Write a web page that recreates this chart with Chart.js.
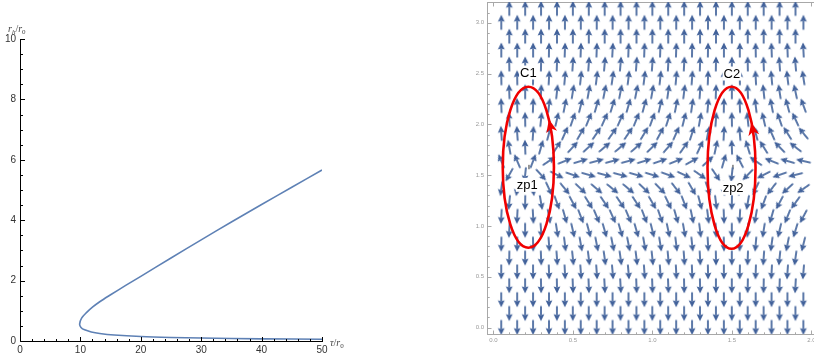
<!DOCTYPE html>
<html>
<head>
<meta charset="utf-8">
<script src="https://cdn.jsdelivr.net/npm/chart.js@4.4.1/dist/chart.umd.min.js"></script>
<style>
html, body { margin: 0; padding: 0; background: #fff; overflow: hidden; width: 814px; height: 356px; }
#leftBox { position: absolute; left: 0; top: 0; width: 345px; height: 356px; }
#rightBox { position: absolute; left: 460px; top: 0; width: 364px; height: 356px; }
canvas { display: block; }
</style>
</head>
<body>
<div id="leftBox"><canvas id="curveChart" width="345" height="356"></canvas></div>
<div id="rightBox"><canvas id="fieldChart" width="364" height="356"></canvas></div>
<script>
// ---- Left panel: horizon radius r_h/r_0 against tau/r_0 (upper branch, then lower branch) ----
const tauPoints = [50, 45, 40, 35, 30, 25, 20, 17.5, 15, 13.2, 12, 11, 10.2, 9.87,
                   10.1, 10.7, 11.8, 13.2, 15.6, 20, 25, 30, 40, 50];
const rhPoints  = [5.66, 5.09, 4.52, 3.94, 3.35, 2.75, 2.14, 1.84, 1.53, 1.3, 1.12, 0.94, 0.76, 0.56,
                   0.45, 0.37, 0.3, 0.25, 0.2, 0.15, 0.118, 0.097, 0.072, 0.058];
const curveXTicks = [0, 10, 20, 30, 40, 50];
const curveYTicks = [0, 2, 4, 6, 8, 10];

// ---- Right panel: normalised vector field over (r_h/r_0, theta) ----
const fieldRowsTheta = [0, 0.137, 0.273, 0.410, 0.546, 0.683, 0.820, 0.956, 1.093, 1.229, 1.366, 1.503,
                        1.639, 1.776, 1.912, 2.049, 2.186, 2.322, 2.459, 2.595, 2.732, 2.869, 3.005, 3.142];
const fieldColsEven = [0.05, 0.15, 0.25, 0.35, 0.45, 0.55, 0.65, 0.75, 0.85, 0.95, 1.05, 1.15, 1.25, 1.35, 1.45, 1.55, 1.65, 1.75, 1.85, 1.95];
const fieldColsOdd  = [0.1, 0.2, 0.3, 0.4, 0.5, 0.6, 0.7, 0.8, 0.9, 1.0, 1.1, 1.2, 1.3, 1.4, 1.5, 1.6, 1.7, 1.8, 1.9];

// arrow directions in degrees (0 = right, 90 = up), one list per row, bottom row first
const row00 = [-90,-90,-90,-90,-90,-90,-90,-90,-90,-90,-90,-90,-90,-90,-90,-90,-90,-90,-90,-90];
const row01 = [-90,-90,-90,-90,-90,-90,-90,-90,-90,-90,-90,-90,-90,-90,-90,-90,-90,-90,-90];
const row02 = [-90,-90,-90,-90,-90,-90,-90,-90,-90,-90,-90,-90,-90,-90,-90,-90,-90,-90,-90,-90];
const row03 = [-90,-90,-89,-89,-88,-88,-87,-87,-88,-88,-88,-89,-89,-90,-90,-91,-91,-92,-93];
const row04 = [-90,-90,-90,-88,-87,-86,-86,-85,-85,-86,-86,-87,-88,-89,-90,-91,-92,-93,-94,-95];
const row05 = [-91,-90,-88,-86,-84,-83,-82,-82,-83,-84,-85,-86,-87,-89,-90,-92,-94,-96,-98];
const row06 = [-91,-91,-89,-86,-83,-80,-79,-79,-79,-80,-81,-83,-84,-87,-89,-92,-95,-98,-101,-104];
const row07 = [-93,-90,-86,-81,-77,-75,-74,-74,-74,-76,-78,-80,-83,-87,-90,-94,-99,-103,-107];
const row08 = [-93,-93,-87,-80,-74,-69,-67,-66,-67,-69,-71,-74,-78,-83,-88,-93,-100,-106,-112,-118];
const row09 = [-96,-91,-80,-70,-62,-58,-56,-56,-57,-60,-64,-69,-75,-83,-91,-100,-110,-118,-126];
const row10 = [-98,-98,-83,-65,-51,-44,-40,-39,-40,-43,-46,-52,-60,-71,-85,-99,-115,-128,-138,-145];
const row11 = [-119,-96,-48,-27,-19,-16,-15,-15,-16,-17,-20,-25,-35,-56,-96,-134,-153,-161,-166];
const row12 = [113,113,69,34,22,17,15,15,15,17,19,22,29,43,74,117,145,158,164,167];
const row13 = [100,92,74,57,47,42,40,40,41,44,49,55,65,78,92,107,122,134,142];
const row14 = [94,94,86,75,66,60,56,55,56,59,62,66,72,79,87,95,105,114,122,129];
const row15 = [94,91,84,77,71,68,66,66,68,70,72,76,80,86,91,96,103,109,115];
const row16 = [92,92,88,83,79,76,74,73,74,75,77,79,82,85,89,92,97,101,105,110];
const row17 = [92,90,87,84,81,80,79,79,79,80,82,83,86,88,90,93,96,99,102];
const row18 = [91,91,89,87,85,84,83,82,83,83,84,85,86,88,89,91,93,95,97,99];
const row19 = [91,90,89,88,86,86,85,85,86,86,87,87,88,89,90,91,92,94,95];
const row20 = [90,90,90,89,88,88,88,87,88,88,88,88,89,89,90,90,91,92,92,93];
const row21 = [90,90,90,90,90,90,90,90,90,90,90,90,90,90,90,90,90,90,90];
const row22 = [90,90,90,90,90,90,90,90,90,90,90,90,90,90,90,90,90,90,90,90];
const row23 = [90,90,90,90,90,90,90,90,90,90,90,90,90,90,90,90,90,90,90];
const fieldAngleRows = [row00,row01,row02,row03,row04,row05,row06,row07,row08,row09,row10,row11,
                        row12,row13,row14,row15,row16,row17,row18,row19,row20,row21,row22,row23];

// zero points and the closed contours around them
const zeroPointX = [0.224, 1.507];
const zeroPointY = [1.58, 1.58];
const zeroPointLabels = ['zp1', 'zp2'];
const zeroLabelX = [0.213, 1.508];
const zeroLabelY = [1.405, 1.375];
const contourLabels = ['C1', 'C2'];
const contourCenterX = [0.22, 1.498];
const contourCenterY = [1.578, 1.573];
const contourRadiusX = [0.161, 0.151];
const contourRadiusY = [0.792, 0.797];
const contourHeadY = [2.03, 2.0];
const contourLabelX = [0.22, 1.50];
const contourLabelY = [2.51, 2.50];
const fieldXTicks = [0, 0.5, 1.0, 1.5, 2.0];
const fieldYTicks = [0, 0.5, 1.0, 1.5, 2.0, 2.5, 3.0];

function noScalePadding(a) {
  a.paddingTop = 0; a.paddingBottom = 0; a.paddingLeft = 0; a.paddingRight = 0;
}

// ---------- left chart ----------
const curveAxes = {
  id: 'curveAxes',
  afterDraw(chart) {
    const { ctx, scales: { x, y } } = chart;
    const ax = Math.round(x.getPixelForValue(0)) + 0.5;
    const ay = Math.round(y.getPixelForValue(0)) + 0.5;
    ctx.save();
    ctx.strokeStyle = '#000';
    ctx.lineWidth = 1;
    ctx.beginPath();
    ctx.moveTo(ax, Math.round(y.getPixelForValue(10)));
    ctx.lineTo(ax, ay);
    ctx.lineTo(Math.round(x.getPixelForValue(50)) + 1, ay);
    for (let v = 0; v <= 10.0001; v += 0.5) {
      const p = Math.round(y.getPixelForValue(v)) + 0.5;
      const major = Math.abs(v / 2 - Math.round(v / 2)) < 1e-6;
      ctx.moveTo(ax, p); ctx.lineTo(ax + (major ? 4.5 : 2.5), p);
    }
    for (let v = 0; v <= 50.0001; v += 2) {
      const p = Math.round(x.getPixelForValue(v)) + 0.5;
      const major = Math.abs(v / 10 - Math.round(v / 10)) < 1e-6;
      ctx.moveTo(p, ay); ctx.lineTo(p, ay - (major ? 4.5 : 2.5));
    }
    ctx.stroke();
    // axis titles
    ctx.fillStyle = '#444';
    ctx.textBaseline = 'alphabetic';
    let cx = 8, by = 32;
    const part = (t, font, dy) => { ctx.font = font; ctx.fillText(t, cx, by + dy); cx += ctx.measureText(t).width; };
    part('r', 'italic 10px "Liberation Serif"', 0);
    part('h', 'italic 7px "Liberation Serif"', 2);
    part('/', '10px "Liberation Serif"', 0);
    part('r', 'italic 10px "Liberation Serif"', 0);
    part('0', '7px "Liberation Serif"', 2);
    cx = 330; by = 346;
    part('\u03c4', 'italic 10px "Liberation Serif"', 0);
    part('/', '10px "Liberation Serif"', 0);
    part('r', 'italic 10px "Liberation Serif"', 0);
    part('0', '7px "Liberation Serif"', 2);
    ctx.restore();
  }
};

new Chart(document.getElementById('curveChart'), {
  type: 'scatter',
  data: {
    datasets: [{
      data: tauPoints.map((t, i) => ({ x: t, y: rhPoints[i] })),
      showLine: true,
      borderColor: '#5e81b5',
      borderWidth: 1.6,
      pointRadius: 0,
      tension: 0.3,
      fill: false
    }]
  },
  options: {
    responsive: false,
    animation: false,
    events: [],
    layout: { autoPadding: false, padding: { left: 0, right: 23, top: 39, bottom: 0 } },
    plugins: { legend: { display: false }, tooltip: { enabled: false } },
    scales: {
      x: {
        type: 'linear', min: 0, max: 50,
        afterFit(a) { a.height = 15; noScalePadding(a); },
        afterBuildTicks(a) { a.ticks = curveXTicks.map(v => ({ value: v })); },
        grid: { display: false, drawTicks: false }, border: { display: false },
        ticks: { color: '#333', font: { size: 10, family: 'Liberation Sans' }, padding: 3, maxRotation: 0, autoSkip: false }
      },
      y: {
        type: 'linear', min: 0, max: 10,
        afterFit(a) { a.width = 20; noScalePadding(a); },
        afterBuildTicks(a) { a.ticks = curveYTicks.map(v => ({ value: v })); },
        grid: { display: false, drawTicks: false }, border: { display: false },
        ticks: { color: '#333', font: { size: 10, family: 'Liberation Sans' }, padding: 4, autoSkip: false }
      }
    }
  },
  plugins: [curveAxes]
});

// ---------- right chart ----------
function makeArrowGlyph() {
  const c = document.createElement('canvas');
  c.width = 20; c.height = 20;
  const g = c.getContext('2d');
  g.strokeStyle = '#5573a5';
  g.lineWidth = 1.9;
  g.beginPath(); g.moveTo(10, 17.4); g.lineTo(10, 8.5); g.stroke();
  g.fillStyle = '#41619a';
  g.beginPath(); g.moveTo(10, 2.6); g.lineTo(13.4, 9.6); g.lineTo(10, 8.6); g.lineTo(6.6, 9.6); g.closePath(); g.fill();
  return c;
}
const arrowGlyph = makeArrowGlyph();

const arrowPoints = [];
const arrowRotations = [];
fieldAngleRows.forEach((angles, k) => {
  const cols = (k % 2 === 0) ? fieldColsEven : fieldColsOdd;
  angles.forEach((a, i) => {
    arrowPoints.push({ x: cols[i], y: fieldRowsTheta[k] });
    arrowRotations.push(90 - a);
  });
});

const fieldDecor = {
  id: 'fieldDecor',
  beforeDatasetsDraw(chart) {
    const { ctx, chartArea: ca, scales: { x, y } } = chart;
    ctx.save();
    ctx.strokeStyle = '#a8a8a8';
    ctx.lineWidth = 1;
    const L = Math.round(ca.left) + 0.5, R = Math.round(ca.right) + 0.5;
    const T = Math.round(ca.top) + 0.5, B = Math.round(ca.bottom) + 0.5;
    ctx.strokeRect(L, T, R - L, B - T);
    ctx.beginPath();
    for (let i = 0; i <= 32; i++) {
      const p = Math.round(y.getPixelForValue(i / 10)) + 0.5;
      const len = (i % 5 === 0) ? 4 : 2.2;
      ctx.moveTo(L, p); ctx.lineTo(L + len, p);
      ctx.moveTo(R, p); ctx.lineTo(R - len, p);
    }
    for (let i = 0; i <= 20; i++) {
      const p = Math.round(x.getPixelForValue(i / 10)) + 0.5;
      const len = (i % 5 === 0) ? 4 : 2.2;
      ctx.moveTo(p, B); ctx.lineTo(p, B - len);
      ctx.moveTo(p, T); ctx.lineTo(p, T + len);
    }
    ctx.stroke();
    // axis titles
    ctx.fillStyle = '#999';
    ctx.font = 'italic 7px "Liberation Serif"';
    ctx.textAlign = 'center';
    ctx.fillText('\u03b8', 472, 171);
    let cx = 644, by = 352;
    ctx.textAlign = 'left';
    const part = (t, font, dy) => { ctx.font = font; ctx.fillText(t, cx, by + dy); cx += ctx.measureText(t).width; };
    part('r', 'italic 7px "Liberation Serif"', 0);
    part('h', 'italic 5px "Liberation Serif"', 1.5);
    part('/', '7px "Liberation Serif"', 0);
    part('r', 'italic 7px "Liberation Serif"', 0);
    part('0', '5px "Liberation Serif"', 1.5);
    ctx.restore();
  },
  afterDatasetsDraw(chart) {
    const { ctx, scales: { x, y } } = chart;
    ctx.save();
    ctx.strokeStyle = '#f00000';
    ctx.fillStyle = '#f00000';
    ctx.lineWidth = 2.6;
    contourCenterX.forEach((cxv, i) => {
      const px = x.getPixelForValue(cxv), py = y.getPixelForValue(contourCenterY[i]);
      const rx = Math.abs(x.getPixelForValue(cxv + contourRadiusX[i]) - px);
      const ry = Math.abs(y.getPixelForValue(contourCenterY[i] + contourRadiusY[i]) - py);
      ctx.beginPath(); ctx.ellipse(px, py, rx, ry, 0, 0, Math.PI * 2); ctx.stroke();
      // direction mark on the right-hand side, pointing anticlockwise
      const s = (contourHeadY[i] - contourCenterY[i]) / contourRadiusY[i];
      const t = Math.asin(s);
      const hx = px + rx * Math.cos(t), hy = py - ry * Math.sin(t);
      let dx = -rx * Math.sin(t), dy = -ry * Math.cos(t);
      const n = Math.hypot(dx, dy); dx /= n; dy /= n;
      const len = 11, hw = 5.5;
      const bx = hx - dx * len, by = hy - dy * len;
      ctx.beginPath();
      ctx.moveTo(hx + dx * 2, hy + dy * 2);
      ctx.lineTo(bx - dy * hw, by + dx * hw);
      ctx.lineTo(hx - dx * len * 0.65, hy - dy * len * 0.65);
      ctx.lineTo(bx + dy * hw, by - dx * hw);
      ctx.closePath(); ctx.fill();
    });
    ctx.restore();
  },
  afterDraw(chart) {
    const { ctx, scales: { x, y } } = chart;
    ctx.save();
    ctx.font = '13px "Liberation Sans"';
    ctx.textAlign = 'center';
    ctx.textBaseline = 'middle';
    const label = (t, vx, vy) => {
      const px = x.getPixelForValue(vx), py = y.getPixelForValue(vy);
      const w = ctx.measureText(t).width;
      ctx.fillStyle = '#fff';
      ctx.fillRect(px - w / 2 - 1, py - 7, w + 2, 14);
      ctx.fillStyle = '#000';
      ctx.fillText(t, px, py + 0.5);
    };
    contourLabels.forEach((t, i) => label(t, contourLabelX[i], contourLabelY[i]));
    zeroPointLabels.forEach((t, i) => label(t, zeroLabelX[i], zeroLabelY[i]));
    ctx.restore();
  }
};

new Chart(document.getElementById('fieldChart'), {
  type: 'scatter',
  data: {
    datasets: [{
      data: arrowPoints,
      pointStyle: arrowGlyph,
      pointRadius: 10,
      rotation: (c) => arrowRotations[c.dataIndex],
      showLine: false
    }, {
      data: zeroPointX.map((v, i) => ({ x: v, y: zeroPointY[i] })),
      pointStyle: 'line',
      rotation: 90,
      pointRadius: 2.2,
      borderColor: '#333',
      borderWidth: 1,
      showLine: false
    }]
  },
  options: {
    responsive: false,
    animation: false,
    events: [],
    layout: { autoPadding: false, padding: { left: 0, right: 6.3, top: 2, bottom: 0 } },
    plugins: { legend: { display: false }, tooltip: { enabled: false } },
    scales: {
      x: {
        type: 'linear', min: -0.04, max: 2.04,
        afterFit(a) { a.height = 22; noScalePadding(a); },
        afterBuildTicks(a) { a.ticks = fieldXTicks.map(v => ({ value: v })); },
        grid: { display: false, drawTicks: false }, border: { display: false },
        ticks: { color: '#999', font: { size: 6, family: 'Liberation Sans' }, padding: 3, maxRotation: 0, autoSkip: false,
                 callback: (v) => Number(v).toFixed(1) }
      },
      y: {
        type: 'linear', min: -0.063, max: 3.204,
        afterFit(a) { a.width = 27; noScalePadding(a); },
        afterBuildTicks(a) { a.ticks = fieldYTicks.map(v => ({ value: v })); },
        grid: { display: false, drawTicks: false }, border: { display: false },
        ticks: { color: '#999', font: { size: 6, family: 'Liberation Sans' }, padding: 3, autoSkip: false,
                 callback: (v) => Number(v).toFixed(1) }
      }
    }
  },
  plugins: [fieldDecor]
});
</script>
</body>
</html>
